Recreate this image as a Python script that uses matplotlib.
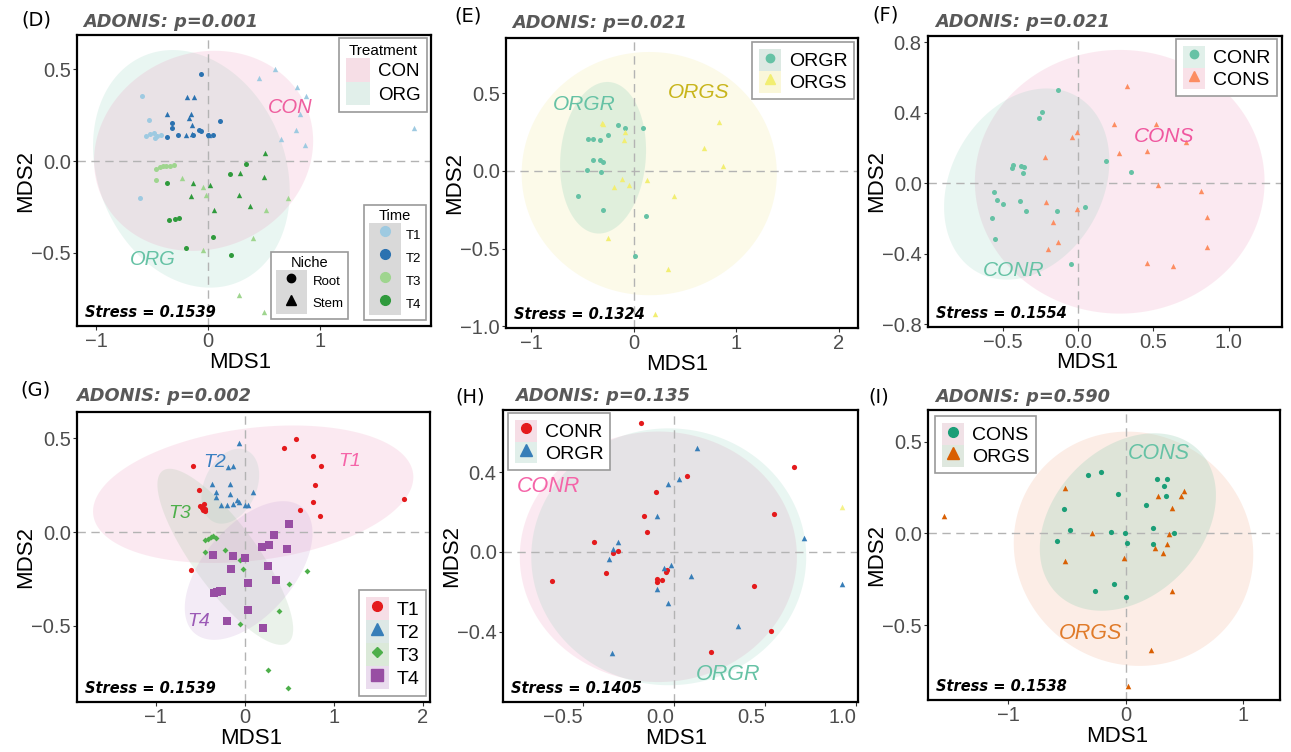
import numpy as np
import matplotlib
matplotlib.use("Agg")
import matplotlib.pyplot as plt
from matplotlib.patches import Patch
from matplotlib.lines import Line2D
from matplotlib.legend_handler import HandlerTuple

plt.rcParams['font.family'] = ['Liberation Sans', 'DejaVu Sans']

# ---------------- data ----------------
# (D) all samples, colour = time, shape = niche
d_t1_root_x = [-0.589, -0.530, -0.551, -0.515, -0.485, -0.473, -0.455, -0.417, -0.610]
d_t1_root_y = [0.353, 0.226, 0.139, 0.149, 0.152, 0.127, 0.139, 0.143, -0.199]
d_t1_stem_x = [0.595, 0.455, 0.798, 0.878, 0.818, 0.789, 0.649, 0.869, 1.839]
d_t1_stem_y = [0.502, 0.451, 0.406, 0.357, 0.257, 0.167, 0.121, 0.089, 0.181]
d_t2_root_x = [-0.060, 0.104, -0.321, -0.321, -0.363, -0.268, -0.134, -0.080, -0.060, 0.000, 0.045]
d_t2_root_y = [0.475, 0.216, 0.208, 0.181, 0.130, 0.143, 0.143, 0.170, 0.163, 0.143, 0.143]
d_t2_stem_x = [-0.188, -0.128, -0.363, -0.155, -0.170, -0.140, -0.193, -0.140, 0.009]
d_t2_stem_y = [0.348, 0.351, 0.257, 0.257, 0.236, 0.197, 0.143, 0.149, 0.143]
d_t3_root_x = [-0.461, -0.432, -0.402, -0.372, -0.342, -0.307, -0.461]
d_t3_root_y = [-0.042, -0.033, -0.027, -0.024, -0.027, -0.020, -0.101]
d_t3_stem_x = [-0.229, -0.045, -0.015, 0.714, 0.521, 0.402, -0.045, 0.277, 0.500]
d_t3_stem_y = [-0.092, -0.141, -0.187, -0.201, -0.268, -0.418, -0.482, -0.730, -0.824]
d_t4_root_x = [-0.363, -0.348, -0.298, -0.259, 0.045, -0.199, 0.208, 0.199, 0.336]
d_t4_root_y = [-0.121, -0.322, -0.315, -0.308, -0.413, -0.471, -0.509, -0.072, -0.013]
d_t4_stem_x = [0.509, 0.289, 0.500, -0.134, 0.015, -0.155, 0.277, 0.378, 0.054]
d_t4_stem_y = [0.043, -0.065, -0.087, -0.120, -0.132, -0.192, -0.183, -0.245, -0.266]

# (E) ORG root vs stem
e_orgr_x = [-0.443, -0.394, -0.329, -0.248, -0.150, -0.085, 0.088, -0.401, -0.329, -0.296,
            -0.453, -0.322, -0.547, -0.296, 0.117, 0.013]
e_orgr_y = [0.208, 0.208, 0.197, 0.232, 0.296, 0.275, 0.277, 0.069, 0.073, 0.056,
            0.009, -0.009, -0.161, -0.249, -0.290, -0.549]
e_orgs_x = [-0.313, -0.296, -0.085, -0.094, -0.117, -0.192, -0.042, 0.134, 0.388, 0.831,
            0.681, 0.876, -0.248, 0.339, 0.208]
e_orgs_y = [0.311, 0.300, 0.251, 0.202, -0.054, -0.103, -0.088, -0.060, -0.163, 0.315,
            0.150, 0.030, -0.431, -0.633, -0.923]

# (F) CON root vs stem
f_conr_x = [-0.138, -0.240, -0.262, -0.433, -0.438, -0.384, -0.360, -0.371, -0.560, -0.538,
            -0.500, -0.387, -0.349, -0.140, -0.576, -0.553, 0.184, 0.349, 0.047, -0.051]
f_conr_y = [0.529, 0.405, 0.369, 0.106, 0.087, 0.100, 0.091, 0.057, -0.051, -0.096,
            -0.117, -0.100, -0.159, -0.159, -0.198, -0.316, 0.127, 0.062, -0.136, -0.457]
f_cons_x = [0.322, 0.240, 0.516, -0.011, -0.040, -0.222, 0.273, 0.456, 0.718, 0.529,
            0.816, 0.856, 0.856, -0.216, -0.007, -0.167, -0.133, -0.200, 0.460, 0.633]
f_cons_y = [0.552, 0.335, 0.336, 0.293, 0.261, 0.151, 0.174, 0.185, 0.236, -0.009,
            -0.042, -0.193, -0.363, -0.108, -0.147, -0.221, -0.336, -0.374, -0.454, -0.469]

# (G) by time
g_t1_x = [0.573, 0.438, 0.768, 0.850, 0.787, 0.760, 0.843, 0.625, 1.790, -0.581,
          -0.517, -0.500, -0.480, -0.462, -0.445, -0.450, -0.470, -0.599]
g_t1_y = [0.498, 0.448, 0.404, 0.352, 0.249, 0.162, 0.084, 0.116, 0.178, 0.352,
          0.226, 0.140, 0.130, 0.148, 0.125, 0.112, 0.118, -0.205]
g_t2_x = [-0.064, -0.187, -0.131, -0.363, -0.169, -0.318, -0.326, -0.161, 0.094, -0.270,
          -0.195, -0.131, -0.086, -0.064, 0.000, 0.037]
g_t2_y = [0.475, 0.347, 0.354, 0.258, 0.258, 0.214, 0.187, 0.201, 0.214, 0.142,
          0.142, 0.151, 0.169, 0.160, 0.142, 0.142]
g_t3_x = [-0.449, -0.412, -0.382, -0.356, -0.318, -0.449, -0.225, -0.056, -0.019, 0.693,
          0.498, 0.386, -0.049, 0.262, 0.487]
g_t3_y = [-0.044, -0.036, -0.027, -0.023, -0.030, -0.107, -0.098, -0.148, -0.196, -0.208,
          -0.276, -0.423, -0.493, -0.738, -0.833]
g_t4_x = [0.498, 0.326, 0.273, 0.195, 0.476, -0.356, -0.131, 0.007, 0.255, -0.157,
          0.348, 0.037, -0.345, -0.311, -0.281, -0.255, 0.037, -0.195, 0.199]
g_t4_y = [0.044, -0.014, -0.068, -0.080, -0.089, -0.121, -0.125, -0.137, -0.183, -0.199,
          -0.254, -0.272, -0.327, -0.322, -0.317, -0.313, -0.418, -0.472, -0.512]

# (H) roots CON vs ORG
h_conr_x = [-0.183, 0.656, 0.070, -0.099, -0.163, -0.147, 0.546, -0.438, -0.310, -0.333,
            -0.374, -0.668, -0.095, -0.095, -0.064, -0.044, -0.037, 0.440, 0.533, 0.203]
h_conr_y = [0.648, 0.427, 0.382, 0.298, 0.179, 0.097, 0.192, 0.050, 0.003, -0.008,
            -0.105, -0.146, -0.134, -0.152, -0.142, -0.100, -0.092, -0.169, -0.395, -0.502]
h_orgr_x = [0.128, 0.029, -0.031, -0.092, -0.306, -0.333, -0.357, -0.055, -0.018, -0.095,
            0.093, -0.033, 0.353, -0.342, 0.712, 0.921]
h_orgr_y = [0.519, 0.367, 0.340, 0.181, 0.047, 0.012, -0.037, -0.079, -0.064, -0.184,
            -0.121, -0.256, -0.372, -0.507, 0.067, -0.162]
h_other_x = [0.921]
h_other_y = [0.226]

# (I) stems CON vs ORG
i_cons_x = [-0.319, -0.213, -0.063, -0.526, -0.475, -0.583, -0.128, -0.006, 0.009, 0.174,
            0.265, 0.356, 0.330, 0.341, 0.230, 0.230, 0.413, -0.097, -0.256, 0.000]
i_cons_y = [0.316, 0.333, 0.215, 0.133, 0.016, -0.040, 0.009, 0.002, -0.055, 0.155,
            0.295, 0.296, 0.258, 0.204, 0.031, -0.056, 0.004, -0.275, -0.316, -0.347]
i_orgs_x = [-1.551, -0.512, -0.518, -0.290, -0.011, 0.279, 0.393, 0.472, 0.501, 0.373,
            0.350, 0.250, 0.321, 0.393, 0.216, 0.017]
i_orgs_y = [0.095, 0.249, -0.149, 0.002, -0.136, 0.204, 0.138, 0.204, 0.231, -0.004,
            -0.060, -0.082, -0.109, -0.315, -0.636, -0.831]

# ellipses: centre x, centre y, half width, half height, tilt (x offset of top / half width)
d_ell_org = [-0.149, -0.042, 0.878, 0.647, -0.19]
d_ell_con = [-0.040, 0.056, 0.978, 0.545, 0.10]
e_ell_orgs = [0.151, -0.017, 1.246, 0.783, 0.0]
e_ell_orgr = [-0.300, 0.085, 0.420, 0.488, 0.10]
f_ell_cons = [0.276, 0.008, 0.964, 0.749, 0.0]
f_ell_conr = [-0.343, -0.005, 0.550, 0.543, 0.24]
g_ell_t1 = [0.094, 0.202, 1.798, 0.367, 0.25]
g_ell_t2 = [-0.163, 0.245, 0.324, 0.200, 0.30]
g_ell_t3 = [-0.219, -0.132, 0.762, 0.470, -0.82]
g_ell_t4 = [0.043, -0.205, 0.717, 0.370, 0.54]
h_ell_conr = [-0.086, -0.025, 0.760, 0.628, 0.0]
h_ell_orgr = [-0.029, -0.025, 0.754, 0.644, 0.0]
i_ell_orgs = [0.068, -0.084, 1.021, 0.639, -0.05]
i_ell_cons = [0.020, 0.062, 0.751, 0.484, 0.30]

panel_tags = ["(D)", "(E)", "(F)", "(G)", "(H)", "(I)"]
adonis_p = ["0.001", "0.021", "0.021", "0.002", "0.135", "0.590"]
stress = ["0.1539", "0.1324", "0.1554", "0.1539", "0.1405", "0.1538"]

# ---------------- layout (pixels of a 1291x752 canvas) ----------------
W, H = 1291, 752
boxes = {  # left, right, top, bottom
    "D": (77, 431, 35, 326), "E": (506, 858, 38, 328), "F": (928, 1282, 36, 327),
    "G": (77, 430, 412, 702), "H": (503, 858, 410, 702), "I": (928, 1280, 410, 700),
}
xlab_centre = {"D": 240, "E": 677, "F": 1087, "G": 251, "H": 676, "I": 1117}
tag_pos = [(36, 20), (468, 16), (886, 15), (35, 390), (470, 397), (879, 397)]
adonis_x = [83, 512, 935, 76, 515, 935]
adonis_y = [22, 23, 22, 396, 396, 397]

fig = plt.figure(figsize=(W / 100, H / 100), dpi=100)


def make_ax(key):
    l, r, t, b = boxes[key]
    return fig.add_axes([l / W, 1 - b / H, (r - l) / W, (b - t) / H])


def ellipse_xy(p, n=240):
    cx, cy, rx, ry, tilt = p
    d = np.arccos(tilt)
    t = np.linspace(0, 2 * np.pi, n)
    return cx + rx * np.cos(t), cy + ry * np.cos(t - d)


def fill_ellipse(ax, p, color, alpha):
    ex, ey = ellipse_xy(p)
    ax.fill(ex, ey, color=color, alpha=alpha, lw=0, zorder=0.5)


def fmt(v, dec):
    s = f"{v:.{dec}f}"
    return s.replace("-", "\u2212")


def style(ax, key, xlim, ylim, xticks, yticks, xdec, ydec, xha="center"):
    ax.set_xlim(xlim)
    ax.set_ylim(ylim)
    ax.set_xticks(xticks)
    ax.set_xticklabels([fmt(v, xdec) for v in xticks], ha=xha)
    ax.set_yticks(yticks)
    ax.set_yticklabels([fmt(v, ydec) for v in yticks])
    ax.tick_params(labelsize=14.5, labelcolor="#4d4d4d", color="#333333",
                   length=3, width=0.8, pad=1.5)
    for s in ax.spines.values():
        s.set_linewidth(1.6)
        s.set_color("black")
    ax.axhline(0, color="#b3b3b3", lw=1.0, ls=(0, (6, 4)), zorder=1)
    ax.axvline(0, color="#b3b3b3", lw=1.0, ls=(0, (6, 4)), zorder=1)
    ax.set_xlabel("MDS1", fontsize=16)
    ax.set_ylabel("MDS2", fontsize=16)
    l, r, t, b = boxes[key]
    ax.xaxis.set_label_coords((xlab_centre[key] - l) / (r - l), -36 / (b - t))
    ax.xaxis.label.set_va("center")
    ax.yaxis.set_label_coords(-0.145, 0.5)
    ax.yaxis.label.set_va("center")
    ax.text(0.022, 0.045, "Stress = " + stress["DEFGHI".index(key)], transform=ax.transAxes,
            fontsize=10.5, fontweight="bold", fontstyle="italic", family="DejaVu Sans",
            va="center", ha="left")


def key(bg, color=None, marker=None, ms=6):
    p = Patch(facecolor=bg, edgecolor="none")
    if color is None:
        return p
    return (p, Line2D([], [], marker=marker, color=color, ls="none", markersize=ms))


def legend(ax, handles, labels, loc, anchor, fs=14, title=None, tfs=None, hl=1.15, hh=1.35):
    lg = ax.legend(handles, labels, loc=loc, bbox_to_anchor=anchor, fontsize=fs,
                   title=title, title_fontsize=tfs, frameon=True, fancybox=False,
                   edgecolor="#9a9a9a", framealpha=1, borderpad=0.35, labelspacing=0.0,
                   handlelength=hl, handleheight=hh, handletextpad=0.4, borderaxespad=0,
                   handler_map={tuple: HandlerTuple(ndivide=1, pad=0)})
    lg.get_frame().set_linewidth(1.2)
    lg.set_zorder(5)
    return lg


PINK, TEAL = "#ee8fb5", "#66c2a5"
PA, TA = 0.19, 0.14

# ---------------- (D) ----------------
ax = make_ax("D")
fill_ellipse(ax, d_ell_org, TEAL, TA)
fill_ellipse(ax, d_ell_con, PINK, PA)
time_cols = ["#9ecae1", "#2b72b0", "#9fd58f", "#2f9a3c"]
d_root = [(d_t1_root_x, d_t1_root_y), (d_t2_root_x, d_t2_root_y),
          (d_t3_root_x, d_t3_root_y), (d_t4_root_x, d_t4_root_y)]
d_stem = [(d_t1_stem_x, d_t1_stem_y), (d_t2_stem_x, d_t2_stem_y),
          (d_t3_stem_x, d_t3_stem_y), (d_t4_stem_x, d_t4_stem_y)]
for c, (rx, ry), (sx, sy) in zip(time_cols, d_root, d_stem):
    ax.scatter(rx, ry, s=13, marker="o", color=c, lw=0, zorder=3)
    ax.scatter(sx, sy, s=15, marker="^", color=c, lw=0, zorder=3)
ax.text(0.729, 0.293, "CON", color="#ef5f9f", fontsize=14.5, style="italic", ha="center", va="center")
ax.text(-0.491, -0.536, "ORG", color="#66c2a5", fontsize=14.5, style="italic", ha="center", va="center")
style(ax, "D", (-1.17, 1.99), (-0.898, 0.687), [-1, 0, 1], [-0.5, 0, 0.5], 0, 1)
lg1 = legend(ax, [key("#f6dee6"), key("#e1efea")], ["CON", "ORG"], "upper right",
             (0.989, 0.99), fs=13.5, title="Treatment", tfs=11, hl=1.3, hh=1.55)
ax.add_artist(lg1)
lg2 = legend(ax, [key("#d9d9d9", c, "o", 7) for c in time_cols], ["T1", "T2", "T3", "T4"],
             "lower right", (0.986, 0.021), fs=9.5, title="Time", tfs=10.5, hl=2.4, hh=2.3)
ax.add_artist(lg2)
legend(ax, [key("#d9d9d9", "black", "o", 6), key("#d9d9d9", "black", "^", 7)],
       ["Root", "Stem"], "lower right", (0.766, 0.024), fs=9.5, title="Niche", tfs=10.5,
       hl=2.4, hh=2.2)

# ---------------- (E) ----------------
ax = make_ax("E")
fill_ellipse(ax, e_ell_orgs, "#f0e68c", 0.19)
fill_ellipse(ax, e_ell_orgr, TEAL, 0.18)
ax.scatter(e_orgr_x, e_orgr_y, s=13, marker="o", color="#66c2a5", lw=0, zorder=3)
ax.scatter(e_orgs_x, e_orgs_y, s=15, marker="^", color="#f2ee72", lw=0, zorder=3)
ax.text(-0.485, 0.427, "ORGR", color="#66c2a5", fontsize=15, style="italic", ha="center", va="center")
ax.text(0.632, 0.502, "ORGS", color="#c8b51c", fontsize=15, style="italic", ha="center", va="center")
style(ax, "E", (-1.248, 2.19), (-1.011, 0.856), [-1, 0, 1, 2], [-1.0, -0.5, 0, 0.5], 0, 1)
legend(ax, [key("#dce9e3", "#66c2a5", "o"), key("#faf7d9", "#f2ee72", "^", 7)],
       ["ORGR", "ORGS"], "upper right", (0.989, 0.986))

# ---------------- (F) ----------------
ax = make_ax("F")
fill_ellipse(ax, f_ell_cons, PINK, PA)
fill_ellipse(ax, f_ell_conr, TEAL, TA)
ax.scatter(f_conr_x, f_conr_y, s=13, marker="o", color="#66c2a5", lw=0, zorder=3)
ax.scatter(f_cons_x, f_cons_y, s=15, marker="^", color="#fc8d62", lw=0, zorder=3)
ax.text(0.571, 0.265, "CONS", color="#f0579f", fontsize=15, style="italic", ha="center", va="center")
ax.text(-0.433, -0.495, "CONR", color="#66c2a5", fontsize=15, style="italic", ha="center", va="center")
style(ax, "F", (-1.0, 1.356), (-0.817, 0.836), [-0.5, 0, 0.5, 1.0], [-0.8, -0.4, 0, 0.4, 0.8], 1, 1)
legend(ax, [key("#e1f0ea", "#66c2a5", "o"), key("#f9e1e8", "#fc8d62", "^", 7)],
       ["CONR", "CONS"], "upper right", (0.986, 0.99))

# ---------------- (G) ----------------
ax = make_ax("G")
fill_ellipse(ax, g_ell_t1, PINK, PA)
fill_ellipse(ax, g_ell_t2, "#8cc5b5", 0.17)
fill_ellipse(ax, g_ell_t3, "#8fbc8f", 0.18)
fill_ellipse(ax, g_ell_t4, "#c39bd3", 0.2)
ax.scatter(g_t1_x, g_t1_y, s=14, marker="o", color="#e41a1c", lw=0, zorder=3)
ax.scatter(g_t2_x, g_t2_y, s=16, marker="^", color="#377eb8", lw=0, zorder=3)
ax.scatter(g_t3_x, g_t3_y, s=9, marker="D", color="#4daf4a", lw=0, zorder=3)
ax.scatter(g_t4_x, g_t4_y, s=30, marker="s", color="#984ea3", lw=0, zorder=3)
ax.text(1.180, 0.379, "T1", color="#f564a8", fontsize=14, style="italic", ha="center", va="center")
ax.text(-0.337, 0.374, "T2", color="#3a7fc1", fontsize=14, style="italic", ha="center", va="center")
ax.text(-0.730, 0.098, "T3", color="#4daf4a", fontsize=14, style="italic", ha="center", va="center")
ax.text(-0.524, -0.475, "T4", color="#9b59b6", fontsize=14, style="italic", ha="center", va="center")
style(ax, "G", (-1.884, 2.079), (-0.907, 0.641), [-1, 0, 1, 2], [-0.5, 0, 0.5], 0, 1)
legend(ax, [key("#f6dee6", "#e41a1c", "o", 7), key("#dde8e6", "#377eb8", "^", 8),
            key("#dbe9d9", "#4daf4a", "D", 5), key("#eadcee", "#984ea3", "s", 8)],
       ["T1", "T2", "T3", "T4"], "lower right", (0.989, 0.021), fs=14, hh=1.45)

# ---------------- (H) ----------------
ax = make_ax("H")
fill_ellipse(ax, h_ell_conr, PINK, PA)
fill_ellipse(ax, h_ell_orgr, TEAL, TA)
ax.scatter(h_conr_x, h_conr_y, s=14, marker="o", color="#e41a1c", lw=0, zorder=3)
ax.scatter(h_orgr_x, h_orgr_y, s=16, marker="^", color="#377eb8", lw=0, zorder=3)
ax.scatter(h_other_x, h_other_y, s=16, marker="^", color="#f5f28a", lw=0, zorder=3)
ax.text(-0.689, 0.326, "CONR", color="#f564a8", fontsize=15.5, style="italic", ha="center", va="center")
ax.text(0.299, -0.614, "ORGR", color="#66c2a5", fontsize=15.5, style="italic", ha="center", va="center")
style(ax, "H", (-0.938, 1.009), (-0.753, 0.711), [-0.5, 0, 0.5, 1.0], [-0.4, 0, 0.4], 1, 1, xha="right")
legend(ax, [key("#f6dee6", "#e41a1c", "o", 7), key("#e1efea", "#377eb8", "^", 8)],
       ["CONR", "ORGR"], "upper left", (0.014, 0.99))

# ---------------- (I) ----------------
ax = make_ax("I")
fill_ellipse(ax, i_ell_orgs, "#f4a582", 0.2)
fill_ellipse(ax, i_ell_cons, "#a8d5bf", 0.35)
ax.scatter(i_cons_x, i_cons_y, s=14, marker="o", color="#1b9e77", lw=0, zorder=3)
ax.scatter(i_orgs_x, i_orgs_y, s=16, marker="^", color="#d95f02", lw=0, zorder=3)
ax.text(0.287, 0.436, "CONS", color="#66c2a5", fontsize=15.5, style="italic", ha="center", va="center")
ax.text(-0.296, -0.545, "ORGS", color="#e07b2a", fontsize=15.5, style="italic", ha="center", va="center")
style(ax, "I", (-1.684, 1.317), (-0.909, 0.673), [-1, 0, 1], [-0.5, 0, 0.5], 0, 1)
legend(ax, [key("#f0e1e6", "#1b9e77", "o", 7), key("#dfe8df", "#d95f02", "^", 8)],
       ["CONS", "ORGS"], "upper left", (0.02, 0.979))

# ---------------- panel headings ----------------
for tag, (tx, ty), ax_x, ay, p in zip(panel_tags, tag_pos, adonis_x, adonis_y, adonis_p):
    fig.text(tx / W, 1 - ty / H, tag, fontsize=14, family="DejaVu Sans", ha="center", va="center")
    fig.text(ax_x / W, 1 - ay / H, "ADONIS: p=" + p, fontsize=12.8, family="DejaVu Sans",
             fontweight="bold", fontstyle="italic", color="#595959", ha="left", va="center")

fig.savefig("out.png", dpi=100)
